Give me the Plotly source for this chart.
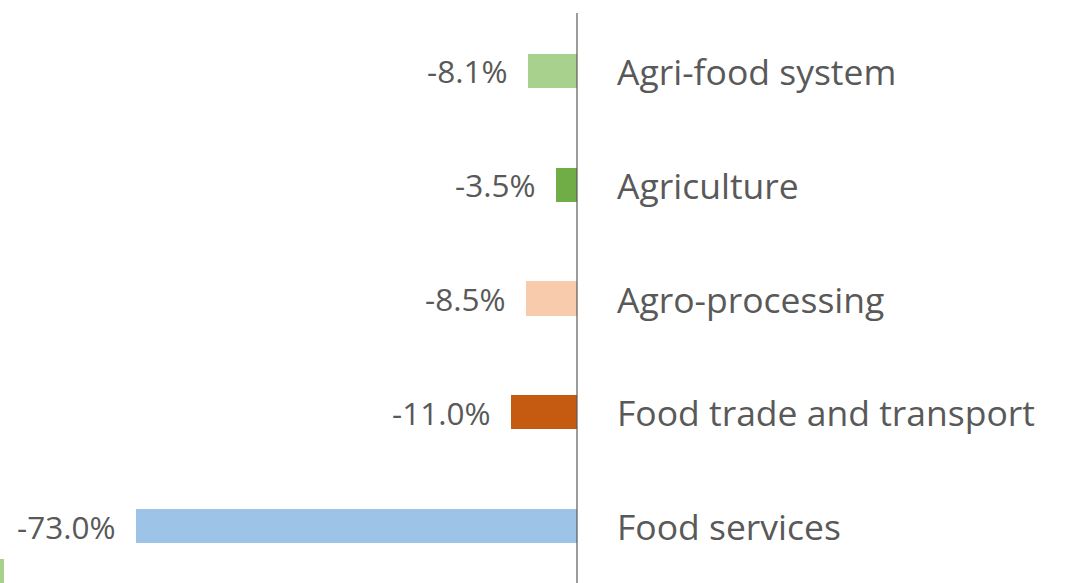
import plotly.graph_objects as go

categories = ["Agri-food system", "Agriculture", "Agro-processing",
              "Food trade and transport", "Food services"]
values = [-8.1, -3.5, -8.5, -11.0, -73.0]
value_labels = ["-8.1%", "-3.5%", "-8.5%", "-11.0%", "-73.0%"]
colors = ["#a9d18e", "#70ad47", "#f8cbad", "#c55a11", "#9dc3e6"]

positions = list(range(len(categories)))
font_family = "Open Sans, Liberation Sans, sans-serif"
text_color = "#595959"

fig = go.Figure()
fig.add_trace(go.Bar(
    x=values,
    y=positions,
    orientation="h",
    width=0.30,
    marker=dict(color=colors, line=dict(width=0)),
    hoverinfo="skip",
    showlegend=False,
))

annotations = []
for pos, val, lab, cat in zip(positions, values, value_labels, categories):
    annotations.append(dict(
        x=val, y=pos, xref="x", yref="y", text=lab, showarrow=False,
        xanchor="right", yanchor="middle", xshift=-19,
        font=dict(family=font_family, size=31.5, color=text_color),
    ))
    annotations.append(dict(
        x=0, y=pos, xref="x", yref="y", text=cat, showarrow=False,
        xanchor="left", yanchor="middle", xshift=38,
        font=dict(family=font_family, size=35.5, color=text_color),
    ))

fig.update_layout(
    width=1066, height=583,
    margin=dict(l=0, r=0, t=0, b=0),
    paper_bgcolor="white",
    plot_bgcolor="white",
    bargap=0,
    xaxis=dict(range=[-95.53, 80.96], visible=False, fixedrange=True),
    yaxis=dict(range=[4.501, -0.624], visible=False, fixedrange=True),
    annotations=annotations,
    shapes=[
        dict(type="line", xref="x", yref="paper", x0=0, x1=0,
             y0=0, y1=1 - 13 / 583, line=dict(color="#595959", width=1.2)),
        dict(type="rect", xref="paper", yref="paper", x0=0, x1=4 / 1066,
             y0=0, y1=24 / 583, line=dict(width=0), fillcolor="#a9d18e"),
    ],
)

fig.write_html("out.html")
